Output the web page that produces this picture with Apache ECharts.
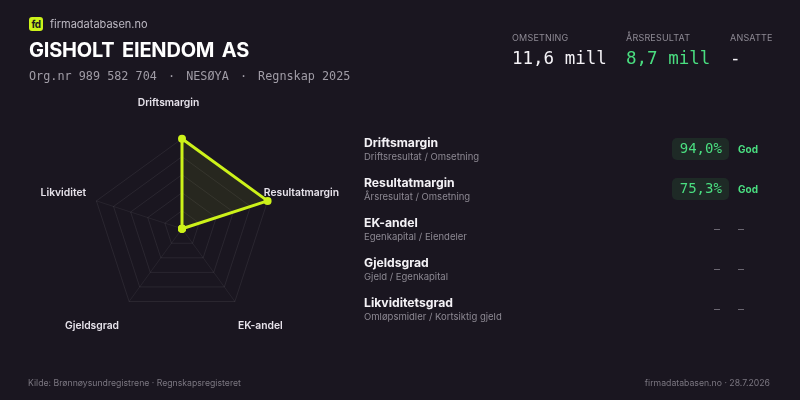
<!DOCTYPE html>
<html><head><meta charset="utf-8">
<script src="https://cdn.jsdelivr.net/npm/echarts@6/dist/echarts.min.js"></script>
<style>
html,body{margin:0;padding:0;background:#1a1620;width:800px;height:400px;overflow:hidden;font-family:Inter,"Noto Sans",sans-serif;}
#chart{position:absolute;left:0;top:0;width:800px;height:400px;}
.t{position:absolute;white-space:nowrap;}
</style></head>
<body>
<div id="chart"></div>
<div id="overlay"></div>
<script>
// ---- data ----
const radarIndicators = ['Driftsmargin','Resultatmargin','EK-andel','Gjeldsgrad','Likviditet'];
const radarScores = [100, 100, 0, 0, 0];
const radarMax = 100;

const metricNames = ['Driftsmargin','Resultatmargin','EK-andel','Gjeldsgrad','Likviditetsgrad'];
const metricFormulas = ['Driftsresultat / Omsetning','Årsresultat / Omsetning','Egenkapital / Eiendeler','Gjeld / Egenkapital','Omløpsmidler / Kortsiktig gjeld'];
const metricValues = ['94,0%','75,3%',null,null,null];
const metricRatings = ['God','God',null,null,null];

const kpiLabels = ['OMSETNING','ÅRSRESULTAT','ANSATTE'];
const kpiValues = ['11,6 mill','8,7 mill','-'];

const companyName = 'GISHOLT EIENDOM AS';
const subtitleParts = ['Org.nr 989 582 704','NESØYA','Regnskap 2025'];
const brand = 'firmadatabasen.no';
const footerLeft = 'Kilde: Brønnøysundregistrene · Regnskapsregisteret';
const footerRight = 'firmadatabasen.no · 28.7.2026';

// ---- colors ----
const LIME = '#cdf21a';
const GREEN = '#4ade80';

// ---- overlay text ----
const ov = document.getElementById('overlay');
function add(html, style){ const d=document.createElement('div'); d.className='t'; d.innerHTML=html; Object.assign(d.style, style); ov.appendChild(d); return d; }

add('fd',{left:'29px',top:'16.5px',width:'14px',height:'14px',borderRadius:'3px',background:LIME,color:'#1a1620',fontWeight:'700',fontSize:'10px',lineHeight:'14px',textAlign:'center',letterSpacing:'-0.5px'});
add(brand,{left:'50px',top:'17px',fontSize:'11px',lineHeight:'14px',color:'#bdb9c3'});
add(companyName,{left:'29px',top:'40px',fontSize:'20px',lineHeight:'20px',fontWeight:'700',color:'#ffffff',wordSpacing:'3px',letterSpacing:'-0.2px'});
add(subtitleParts.join('<span style="padding:0 4px"> · </span>'),{left:'29px',top:'69.5px',fontSize:'11.8px',lineHeight:'12px',color:'#a09ca6',fontFamily:'"DejaVu Sans Mono",monospace'});

const kpiX = [512, 626, 730];
kpiLabels.forEach((l,i)=>{
  add(l,{left:kpiX[i]+'px',top:'32.5px',fontSize:'9px',lineHeight:'10px',color:'#8e8a94',letterSpacing:'0.2px'});
  add(kpiValues[i],{left:kpiX[i]+'px',top:'48.5px',fontSize:'17.5px',lineHeight:'18px',color:i===1?GREEN:'#f4f2f6',fontFamily:'"DejaVu Sans Mono",monospace'});
});

metricNames.forEach((n,i)=>{
  const y = 143.3 + i*40;
  add(n,{left:'364px',top:(y-7)+'px',fontSize:'12.2px',lineHeight:'14px',fontWeight:'700',color:'#f4f2f6'});
  add(metricFormulas[i],{left:'364px',top:(y+8.4)+'px',fontSize:'9.5px',lineHeight:'10px',color:'#8c8892'});
  const cy = y + 5.7;
  if (metricValues[i]) {
    add(metricValues[i],{left:'672px',top:(cy-10.7)+'px',width:'57.4px',height:'21.4px',boxSizing:'border-box',paddingRight:'7.5px',textAlign:'right',borderRadius:'5px',background:'#1e2a26',color:GREEN,fontSize:'14px',lineHeight:'21.4px',fontFamily:'"DejaVu Sans Mono",monospace'});
  } else {
    add('–',{left:'714px',top:(cy-7.5)+'px',fontSize:'12px',lineHeight:'14px',color:'#6b6771'});
  }
  add(metricRatings[i] || '–',{left:'738px',top:(cy-(metricRatings[i]?6:7.5))+'px',fontSize:metricRatings[i]?'10px':'12px',lineHeight:metricRatings[i]?'12px':'14px',fontWeight:metricRatings[i]?'700':'400',color:metricRatings[i]?GREEN:'#6b6771'});
});

add(footerLeft,{left:'28px',top:'377.5px',fontSize:'8.7px',lineHeight:'11px',color:'#7b7781'});
add(footerRight,{right:'30px',top:'377.5px',fontSize:'8.7px',lineHeight:'11px',color:'#7b7781'});

// ---- radar chart ----
// ECharts lays indicators out counter-clockwise; reorder so they run clockwise from the top.
const order = [0, 4, 3, 2, 1];
const namePad = {
  'Driftsmargin':   [0, 27, 36, 0],
  'Resultatmargin': [0, 0, 19, 1],
  'EK-andel':       [56, 0, 0, 6],
  'Gjeldsgrad':     [56, 13, 0, 0],
  'Likviditet':     [0, 15, 19, 0]
};
const richStyles = {};
radarIndicators.forEach((n,i)=>{ richStyles['n'+i] = { padding: namePad[n], color:'#e6e2ea', fontSize:10.3, fontWeight:600, fontFamily:'Inter' }; });

const chart = echarts.init(document.getElementById('chart'), null, {renderer:'canvas'});
chart.setOption({
  backgroundColor: 'transparent',
  animation: false,
  radar: {
    center: [182, 228.7],
    radius: 90,
    startAngle: 90,
    splitNumber: 5,
    shape: 'polygon',
    nameGap: -5,
    indicator: order.map(i => ({ name: radarIndicators[i], max: radarMax, min: 0 })),
    axisName: {
      color: '#e6e2ea', fontSize: 10.3, fontWeight: 600, fontFamily: 'Inter',
      formatter: (name) => '{n' + radarIndicators.indexOf(name) + '|' + name + '}',
      rich: richStyles
    },
    splitLine: { lineStyle: { color: 'rgba(255,255,255,0.07)', width: 1 } },
    splitArea: { show: false },
    axisLine: { lineStyle: { color: 'rgba(255,255,255,0.06)', width: 1 } }
  },
  series: [{
    type: 'radar',
    symbol: 'circle',
    symbolSize: 8,
    itemStyle: { color: LIME },
    lineStyle: { color: LIME, width: 3 },
    areaStyle: { color: 'rgba(205,242,26,0.11)' },
    data: [{ value: order.map(i => radarScores[i]) }]
  }]
});
</script>
</body></html>
